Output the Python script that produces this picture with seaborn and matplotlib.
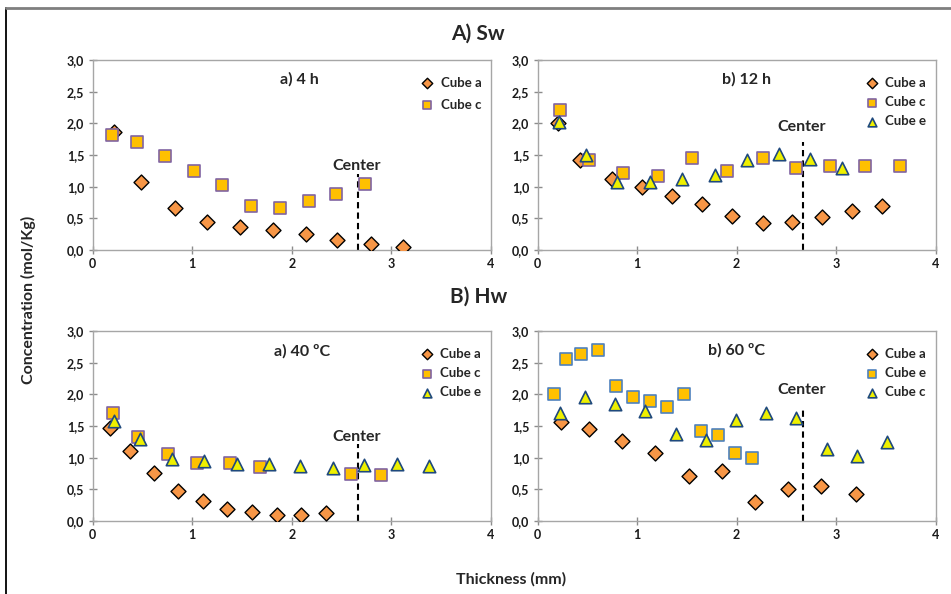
import matplotlib
matplotlib.use("Agg")
import matplotlib.pyplot as plt
import seaborn as sns
import numpy as np
from matplotlib.lines import Line2D
from matplotlib.ticker import FuncFormatter

# ---------------- data ----------------
# A) Sw  a) 4 h
sw4_a_x = [0.21, 0.49, 0.83, 1.15, 1.48, 1.81, 2.14, 2.46, 2.80, 3.12]
sw4_a_y = [1.87, 1.08, 0.66, 0.44, 0.37, 0.32, 0.25, 0.16, 0.09, 0.04]
sw4_c_x = [0.19, 0.44, 0.73, 1.02, 1.30, 1.59, 1.88, 2.17, 2.45, 2.74]
sw4_c_y = [1.81, 1.70, 1.49, 1.24, 1.02, 0.70, 0.67, 0.77, 0.88, 1.05]

# A) Sw  b) 12 h
sw12_a_x = [0.20, 0.43, 0.75, 1.05, 1.35, 1.65, 1.95, 2.26, 2.56, 2.86, 3.16, 3.46]
sw12_a_y = [2.01, 1.42, 1.12, 1.00, 0.86, 0.73, 0.54, 0.42, 0.44, 0.52, 0.62, 0.69]
sw12_c_x = [0.22, 0.52, 0.86, 1.21, 1.55, 1.90, 2.26, 2.60, 2.94, 3.29, 3.64]
sw12_c_y = [2.21, 1.42, 1.21, 1.17, 1.46, 1.25, 1.46, 1.29, 1.33, 1.32, 1.32]
sw12_e_x = [0.21, 0.49, 0.80, 1.13, 1.45, 1.78, 2.10, 2.43, 2.74, 3.06]
sw12_e_y = [2.02, 1.50, 1.08, 1.07, 1.12, 1.19, 1.42, 1.52, 1.44, 1.30]

# B) Hw  a) 40 C
hw40_a_x = [0.17, 0.37, 0.62, 0.86, 1.11, 1.35, 1.60, 1.85, 2.09, 2.34]
hw40_a_y = [1.47, 1.10, 0.76, 0.48, 0.31, 0.19, 0.14, 0.09, 0.10, 0.12]
hw40_c_x = [0.20, 0.46, 0.76, 1.05, 1.38, 1.68, 2.60, 2.90]
hw40_c_y = [1.70, 1.33, 1.06, 0.91, 0.92, 0.85, 0.74, 0.73]
hw40_e_x = [0.21, 0.48, 0.80, 1.12, 1.45, 1.77, 2.08, 2.41, 2.73, 3.06, 3.38]
hw40_e_y = [1.58, 1.30, 0.98, 0.94, 0.90, 0.90, 0.87, 0.83, 0.89, 0.90, 0.87]

# B) Hw  b) 60 C
hw60_a_x = [0.23, 0.52, 0.85, 1.18, 1.52, 1.85, 2.18, 2.52, 2.85, 3.20]
hw60_a_y = [1.57, 1.45, 1.27, 1.08, 0.71, 0.79, 0.30, 0.51, 0.55, 0.42]
hw60_e_x = [0.16, 0.28, 0.44, 0.61, 0.79, 0.96, 1.13, 1.30, 1.47, 1.64, 1.81, 1.98, 2.15]
hw60_e_y = [2.01, 2.56, 2.63, 2.70, 2.13, 1.95, 1.90, 1.80, 2.01, 1.42, 1.35, 1.08, 0.99]
hw60_c_x = [0.22, 0.48, 0.78, 1.08, 1.39, 1.69, 1.99, 2.29, 2.60, 2.91, 3.21, 3.51]
hw60_c_y = [1.71, 1.95, 1.84, 1.74, 1.37, 1.28, 1.59, 1.71, 1.62, 1.13, 1.03, 1.24]

center_x = 2.67
xticks = [0, 1, 2, 3, 4]
yticks = [0.0, 0.5, 1.0, 1.5, 2.0, 2.5, 3.0]

# ---------------- style ----------------
sns.set_style("white")
plt.rcParams['font.family'] = ['Lato', 'DejaVu Sans']

ORANGE = '#F79646'
GOLD = '#FFC000'
PURPLE = '#8064A2'
BLUE = '#4F81BD'
YELLOW = '#EEF000'
NAVY = '#1F497D'

fig = plt.figure(figsize=(9.51, 5.94), dpi=100)

W = 0.4185
H = 0.3199
axes_pos = {
    'Aa': [0.0975, 0.5791, W, H],
    'Ab': [0.5654, 0.5791, W, H],
    'Ba': [0.0975, 0.1229, W, H],
    'Bb': [0.5654, 0.1229, W, H],
}

def style_series(kind, sq_edge=PURPLE):
    if kind == 'a':
        return dict(marker='D', s=58, color=ORANGE, edgecolor='black', linewidth=1.0)
    if kind == 'c':
        return dict(marker='s', s=72, color=GOLD, edgecolor=sq_edge, linewidth=1.2)
    return dict(marker='^', s=80, color=YELLOW, edgecolor=NAVY, linewidth=1.2)

def setup(ax, title, tx, ty, ctop, cty):
    ax.set_xlim(0, 4)
    ax.set_ylim(0, 3)
    ax.set_xticks(xticks)
    ax.set_yticks(yticks)
    ax.yaxis.set_major_formatter(FuncFormatter(lambda v, p: f"{v:.1f}".replace('.', ',')))
    for sp in ax.spines.values():
        sp.set_color('#A6A6A6')
        sp.set_linewidth(1.0)
    ax.tick_params(axis='both', direction='inout', length=6, width=1.0, color='#8C8C8C',
                   labelsize=9, pad=3, left=True, bottom=True)
    for lab in ax.get_xticklabels() + ax.get_yticklabels():
        lab.set_fontweight('bold')
        lab.set_color('#1a1a1a')
    ax.text(tx, ty, title, fontsize=11.5, fontweight='bold', ha='center', va='center')
    ax.plot([center_x, center_x], [0, ctop], color='black', linestyle=(0, (3, 2)), linewidth=1.5, zorder=1)
    ax.text(center_x - 0.02, cty, 'Center', fontsize=11.5, fontweight='bold', ha='center', va='center')
    ax.set_xlabel('')
    ax.set_ylabel('')

def legend(ax, spacing=0.55):
    leg = ax.legend(loc='upper right', frameon=False, fontsize=9.5, handletextpad=0.05,
                    markerscale=0.7, labelspacing=spacing, borderaxespad=0.3,
                    bbox_to_anchor=(1.0, 0.96))
    for t in leg.get_texts():
        t.set_fontweight('bold')

# A) a
ax = fig.add_axes(axes_pos['Aa'])
sns.scatterplot(x=sw4_a_x, y=sw4_a_y, ax=ax, label='Cube a', zorder=3, **style_series('a'))
sns.scatterplot(x=sw4_c_x, y=sw4_c_y, ax=ax, label='Cube c', zorder=4, **style_series('c'))
setup(ax, 'a) 4 h', 2.08, 2.70, 1.20, 1.33)
legend(ax, spacing=0.75)

# A) b
ax = fig.add_axes(axes_pos['Ab'])
sns.scatterplot(x=sw12_a_x, y=sw12_a_y, ax=ax, label='Cube a', zorder=3, **style_series('a'))
sns.scatterplot(x=sw12_c_x, y=sw12_c_y, ax=ax, label='Cube c', zorder=4, **style_series('c'))
sns.scatterplot(x=sw12_e_x, y=sw12_e_y, ax=ax, label='Cube e', zorder=5, **style_series('e'))
setup(ax, 'b) 12 h', 2.10, 2.70, 1.71, 1.94)
legend(ax)

# B) a
ax = fig.add_axes(axes_pos['Ba'])
sns.scatterplot(x=hw40_a_x, y=hw40_a_y, ax=ax, label='Cube a', zorder=3, **style_series('a'))
sns.scatterplot(x=hw40_c_x, y=hw40_c_y, ax=ax, label='Cube c', zorder=4, **style_series('c'))
sns.scatterplot(x=hw40_e_x, y=hw40_e_y, ax=ax, label='Cube e', zorder=5, **style_series('e'))
setup(ax, 'a) 40 ºC', 2.10, 2.68, 1.21, 1.32)
legend(ax)

# B) b
ax = fig.add_axes(axes_pos['Bb'])
sns.scatterplot(x=hw60_a_x, y=hw60_a_y, ax=ax, label='Cube a', zorder=3, **style_series('a'))
sns.scatterplot(x=hw60_e_x, y=hw60_e_y, ax=ax, label='Cube e', zorder=4, **style_series('c', sq_edge=BLUE))
sns.scatterplot(x=hw60_c_x, y=hw60_c_y, ax=ax, label='Cube c', zorder=5, **style_series('e'))
setup(ax, 'b) 60 ºC', 2.00, 2.70, 1.80, 2.07)
legend(ax)

# figure-level texts
fig.text(0.503, 0.944, 'A) Sw', fontsize=15, fontweight='bold', ha='center', va='center')
fig.text(0.503, 0.500, 'B) Hw', fontsize=15, fontweight='bold', ha='center', va='center')
fig.text(0.030, 0.495, 'Concentration (mol/Kg)', fontsize=11.5, fontweight='bold',
         rotation=90, ha='center', va='center')
fig.text(0.537, 0.025, 'Thickness (mm)', fontsize=11.5, fontweight='bold', ha='center', va='center')

# outer frame lines
fig.add_artist(Line2D([6 / 951, 6 / 951], [0, 1 - 8 / 594], transform=fig.transFigure,
                      color='black', linewidth=1.3))
fig.add_artist(Line2D([6 / 951, 1], [1 - 8 / 594, 1 - 8 / 594], transform=fig.transFigure,
                      color='#7F7F7F', linewidth=2.0))

fig.savefig('out.png', dpi=100)
